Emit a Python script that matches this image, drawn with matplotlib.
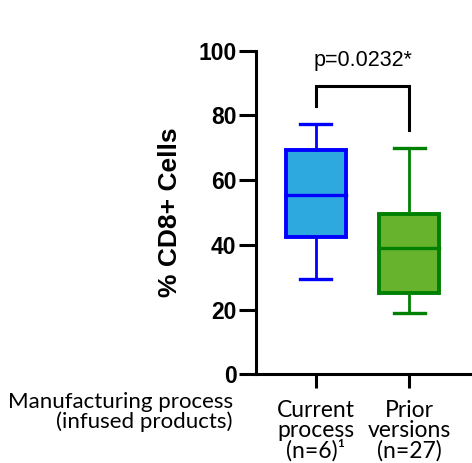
import matplotlib
matplotlib.use("Agg")
import matplotlib.pyplot as plt

# Box statistics for % CD8+ cells by manufacturing process
categories = ["Current\nprocess\n(n=6)\u00b9", "Prior\nversions\n(n=27)"]
medians = [55.4, 39.1]
q1 = [42.3, 25.2]
q3 = [69.3, 49.5]
whisker_low = [29.4, 19.0]
whisker_high = [77.3, 69.8]
face_colors = ["#2EA9E0", "#67B32E"]
edge_colors = ["#0000FF", "#008000"]
p_label = "p=0.0232*"
yticks = [0, 20, 40, 60, 80, 100]

fig = plt.figure(figsize=(4.72, 4.63), dpi=100)
ax = fig.add_axes([256 / 472, 1 - 374.3 / 463, 216 / 472, 323.6 / 463])

stats = []
for i in range(2):
    stats.append(dict(med=medians[i], q1=q1[i], q3=q3[i],
                      whislo=whisker_low[i], whishi=whisker_high[i],
                      fliers=[], label=categories[i]))

for i, st in enumerate(stats):
    ax.bxp([st], positions=[i + 1], widths=0.64, patch_artist=True,
           showfliers=False, manage_ticks=False,
           boxprops=dict(facecolor=face_colors[i], edgecolor=edge_colors[i], linewidth=2.8),
           medianprops=dict(color=edge_colors[i], linewidth=2.4, solid_capstyle="projecting"),
           whiskerprops=dict(color=edge_colors[i], linewidth=2.0),
           capprops=dict(color=edge_colors[i], linewidth=2.4),
           capwidths=0.33)

# Significance bracket
ax.plot([1, 1, 2, 2], [82.9, 89.2, 89.2, 75.5], color="black", linewidth=2.2,
        solid_joinstyle="miter", clip_on=False)
ax.text(1.505, 95.3, p_label, ha="center", va="baseline", fontsize=15.5,
        family="Liberation Sans", clip_on=False)

ax.set_xlim(0.362, 2.67)
ax.set_ylim(0, 100)
ax.set_yticks(yticks)
ax.set_yticklabels([str(v) for v in yticks], fontsize=16.5, fontweight="bold",
                   family="Liberation Sans")
ax.set_xticks([1, 2])
ax.set_xticklabels(categories, fontsize=16.5, family="Lato", linespacing=0.93)

for side in ["top", "right"]:
    ax.spines[side].set_visible(False)
for side in ["left", "bottom"]:
    ax.spines[side].set_linewidth(2.2)
    ax.spines[side].set_capstyle("projecting")
ax.tick_params(axis="y", length=12, width=2.2, pad=2)
ax.tick_params(axis="x", length=10, width=2.2, pad=8.5)

ax.text(-0.4, 0.5, "% CD8+ Cells", transform=ax.transAxes, rotation=90,
        ha="center", va="center", fontsize=19, fontweight="bold",
        family="Liberation Sans")

fig.text(233 / 472, 1 - 428 / 463, "Manufacturing process\n(infused products)",
         ha="right", va="baseline", fontsize=16, family="Lato",
         linespacing=0.97, multialignment="right")

fig.savefig("out.png", dpi=100)
